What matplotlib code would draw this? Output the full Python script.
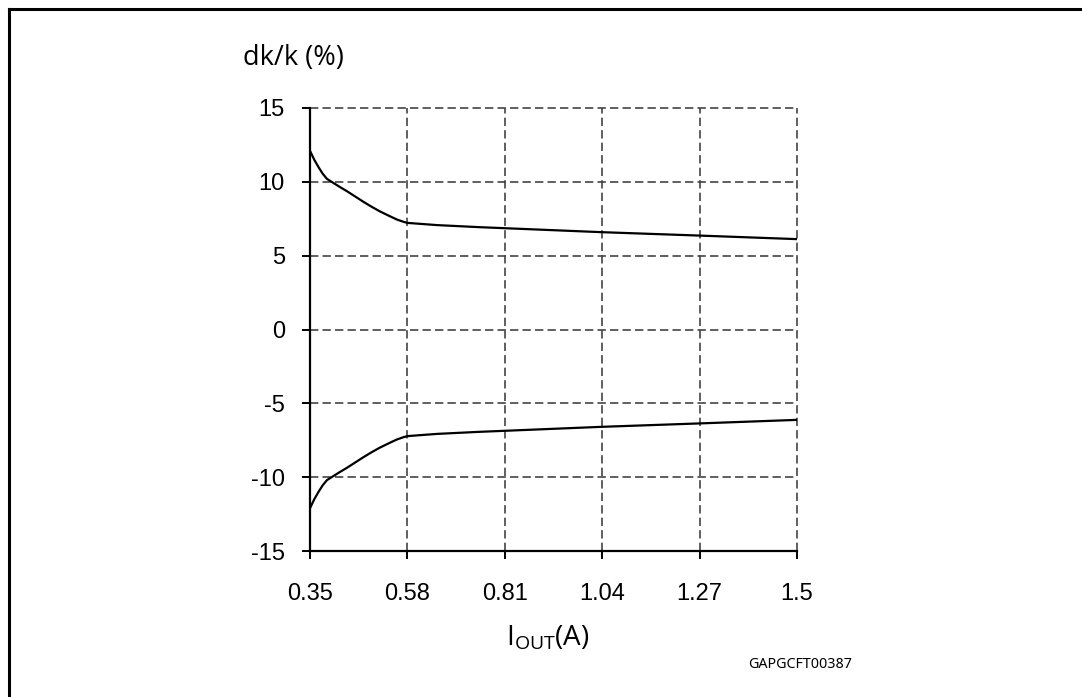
import matplotlib
matplotlib.use("Agg")
import matplotlib.pyplot as plt
from matplotlib.lines import Line2D

# Data
x_upper = [0.35, 0.36, 0.37, 0.38, 0.39, 0.40, 0.42, 0.437, 0.456, 0.476, 0.495, 0.515,
           0.535, 0.555, 0.57, 0.58, 0.65, 0.75, 0.81, 1.04, 1.27, 1.5]
y_upper = [12.1, 11.5, 11.0, 10.55, 10.2, 10.02, 9.66, 9.37, 9.02, 8.65, 8.32, 8.0,
           7.72, 7.45, 7.3, 7.22, 7.07, 6.93, 6.86, 6.59, 6.36, 6.12]
x_lower = [0.35, 0.36, 0.37, 0.38, 0.39, 0.40, 0.42, 0.437, 0.456, 0.476, 0.495, 0.515,
           0.535, 0.555, 0.57, 0.58, 0.65, 0.75, 0.81, 1.04, 1.27, 1.5]
y_lower = [-12.1, -11.5, -11.0, -10.55, -10.2, -10.02, -9.66, -9.37, -9.02, -8.65, -8.32, -8.0,
           -7.72, -7.45, -7.3, -7.22, -7.07, -6.93, -6.86, -6.59, -6.36, -6.12]
x_ticks = [0.35, 0.58, 0.81, 1.04, 1.27, 1.5]
x_tick_labels = ["0.35", "0.58", "0.81", "1.04", "1.27", "1.5"]
y_ticks = [-15, -10, -5, 0, 5, 10, 15]
y_tick_labels = ["-15", "-10", "-5", "0", "5", "10", "15"]

W, H = 1082, 697
fig = plt.figure(figsize=(W / 100, H / 100), dpi=100)

# Outer frame (cut off at right and bottom)
fig.add_artist(Line2D([8.5 / W, 1.0], [1 - 8.5 / H, 1 - 8.5 / H], color="black", lw=2.2,
                      transform=fig.transFigure))
fig.add_artist(Line2D([8.5 / W, 8.5 / W], [1 - 8.5 / H, 0.0], color="black", lw=2.2,
                      transform=fig.transFigure))

ax = fig.add_axes([310 / W, 1 - 551 / H, (797 - 310) / W, (551 - 108) / H])

ax.plot(x_upper, y_upper, color="black", lw=1.6, solid_joinstyle="round")
ax.plot(x_lower, y_lower, color="black", lw=1.6, solid_joinstyle="round")

ax.set_xlim(0.35, 1.5)
ax.set_ylim(-15, 15)
ax.set_xticks(x_ticks)
ax.set_xticklabels(x_tick_labels, family="Liberation Sans", fontsize=17)
ax.set_yticks(y_ticks)
ax.set_yticklabels(y_tick_labels, family="Liberation Sans", fontsize=17)

ax.grid(True, color="#444444", lw=1.2, linestyle=(0, (5, 2.5)))
for gl in ax.get_xgridlines() + ax.get_ygridlines():
    gl.set_clip_on(False)

for s in ["top", "right"]:
    ax.spines[s].set_visible(False)
for s in ["left", "bottom"]:
    ax.spines[s].set_linewidth(1.6)
    ax.spines[s].set_color("black")
    ax.spines[s].set_zorder(3)

ax.tick_params(axis="both", direction="out", length=6, width=1.4, color="black")
ax.tick_params(axis="y", pad=12)
ax.tick_params(axis="x", pad=17)

plt.rcParams["mathtext.default"] = "regular"
fig.text(293 / W, 1 - 58 / H, "dk/k (%)", family="Open Sans", fontsize=19.5,
         ha="center", va="center")
fig.text(548 / W, 1 - 645 / H, r"$\mathregular{I_{OUT}(A)}$", family="Open Sans",
         fontsize=20, ha="center", va="baseline")
fig.text(800 / W, 1 - 664 / H, "GAPGCFT00387", family="Noto Sans", fontsize=10.3,
         ha="center", va="center")

fig.savefig("out.png", dpi=100)
